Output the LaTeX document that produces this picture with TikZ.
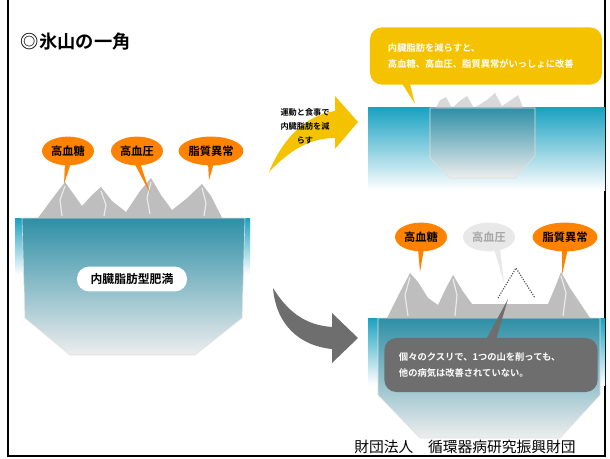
\documentclass[tikz,border=0pt]{standalone}
\usepackage{fontspec}
\setmainfont{Noto Sans CJK JP}[BoldFont={Noto Sans CJK JP Bold}]
\usetikzlibrary{positioning,shapes.geometric,calc}

\definecolor{sea}{HTML}{1AA2C2}
\definecolor{berg}{HTML}{2E8FA6}
\definecolor{rock}{HTML}{BEBEBE}
\definecolor{warn}{HTML}{FF8200}
\definecolor{gold}{HTML}{F5C200}
\definecolor{slate}{HTML}{6E6E6E}

\begin{document}
\begin{tikzpicture}[x=0.025cm, y=-0.025cm,
  bubble/.style={ellipse, fill=warn, inner sep=0pt, minimum width=1.3cm, minimum height=0.72cm,
    font=\fontsize{8}{9}\selectfont\bfseries},
  ghost/.style={bubble, fill=black!9, text=black!35},
  note/.style={rectangle, rounded corners=0.3cm, text=white, align=left,
    font=\fontsize{6.6}{11}\selectfont\bfseries},
  body/.style={top color=berg, bottom color=white!93!black, draw=black!12},
  crack/.style={white, line width=0.8pt, opacity=.7}]
  \useasboundingbox (0,0) rectangle (610,459);

  % frame
  \draw[line width=1.2pt] (8,-5) -- (8,456) -- (605,456) -- (605,-5);

  \node[anchor=west, font=\fontsize{13}{15}\selectfont\bfseries] (title) at (16,42) {◎氷山の一角};

  % --- left: before ---
  \shade[top color=sea, bottom color=white] (15,218) rectangle (250,275);
  \shade[body] (22,218) -- (245,218) -- (242,318) -- (195,355) -- (70,355) -- (25,318) -- cycle;
  \fill[rock] (38,218) -- (55,195) -- (65,182) -- (72,192) -- (82,206) -- (92,195) -- (101,187)
    -- (112,201) -- (126,212) -- (140,191) -- (151,178) -- (161,195) -- (172,210) -- (186,199)
    -- (202,184) -- (211,196) -- (222,218) -- cycle;
  \draw[crack] (65,186) -- (60,200) -- (62,216) (101,191) -- (106,205) -- (104,216)
    (151,182) -- (147,198) -- (150,214) (202,188) -- (206,203) -- (204,216);
  \node[fill=white, rounded corners=0.3cm, minimum width=2.75cm, minimum height=0.62cm,
    font=\fontsize{8.4}{10}\selectfont\bfseries] (fat) at (132,279) {内臓脂肪型肥満};

  \node[bubble] (l1) at (68,151) {高血糖};
  \node[bubble] (l2) at (137,151) {高血圧};
  \node[bubble, minimum width=1.62cm] (l3) at (211,151) {脂質異常};
  \coordinate (pk1) at (64,184);
  \coordinate (pk2) at (150,193);
  \coordinate (pk3) at (209,180);
  \foreach \b/\p in {l1/pk1, l2/pk2, l3/pk3}
    \fill[warn] ($(\b.south)+(-3,-3)$) -- (\p) -- ($(\b.south)+(3,-3)$) -- cycle;

  % --- arrows ---
  \fill[gold] (269,172) .. controls (282,140) and (305,115) .. (335,111) -- (335,96) -- (358,122)
    -- (335,149) -- (335,138) .. controls (310,138) and (290,150) .. (269,172) -- cycle;
  \node[align=center, font=\fontsize{5.8}{10}\selectfont\bfseries] (how) at (305,126)
    {運動と食事で\\内臓脂肪を減\\らす};
  \fill[slate] (273,288) .. controls (276,325) and (300,346) .. (332,349) -- (332,363) -- (358,338)
    -- (332,313) -- (332,327) .. controls (305,325) and (288,312) .. (273,288) -- cycle;

  % --- right top: after ---
  \shade[top color=sea, bottom color=white] (368,108) rectangle (605,190);
  \fill[rock, opacity=.6] (435,110) -- (440,100) -- (446,97) -- (452,108) -- (461,100) -- (467,96)
    -- (474,108) -- (487,100) -- (495,93) -- (502,106) -- (511,100) -- (518,95) -- (524,110) -- cycle;
  \shade[body] (430,108) -- (535,108) -- (535,156) -- (515,178) -- (450,178) -- (430,158) -- cycle;
  \node[note, fill=gold, minimum width=5.8cm, minimum height=1.43cm, text width=4.9cm] (good)
    at (486,56) {内臓脂肪を減らすと、\\高血糖、高血圧、脂質異常がいっしょに改善};
  \coordinate (tipA) at (415,104);
  \fill[gold] ($(good.south west)+(32,-2)$) -- (tipA) -- ($(good.south west)+(40,-2)$) -- cycle;

  % --- right bottom: one drug only ---
  \shade[top color=sea, bottom color=white] (368,318) rectangle (605,385);
  \shade[body] (378,318) -- (600,318) -- (600,395) -- (560,438) -- (420,438) -- (378,395) -- cycle;
  \fill[rock] (387,318) -- (398,296) -- (410,273) -- (418,282) -- (428,298) -- (438,305) -- (446,288)
    -- (453,275) -- (462,290) -- (472,304) -- (548,304) -- (556,285) -- (561,272) -- (570,288)
    -- (590,318) -- cycle;
  \draw[crack] (410,277) -- (405,295) -- (408,316) (453,279) -- (457,295) -- (455,316)
    (561,276) -- (566,293) -- (563,316);
  \draw[densely dotted, black!70, thick] (498,298) -- (516,268) -- (535,298);

  \node[bubble] (r1) at (421,237) {高血糖};
  \node[ghost] (r2) at (489,237) {高血圧};
  \node[bubble, minimum width=1.62cm] (r3) at (565,237) {脂質異常};
  \coordinate (pk4) at (420,272);
  \coordinate (pk5) at (504,283);
  \coordinate (pk6) at (562,275);
  \fill[warn] ($(r1.south)+(-3,-3)$) -- (pk4) -- ($(r1.south)+(3,-3)$) -- cycle;
  \fill[black!9] ($(r2.south)+(5,-3)$) -- (pk5) -- ($(r2.south)+(11,-3)$) -- cycle;
  \fill[warn] ($(r3.south)+(-3,-3)$) -- (pk6) -- ($(r3.south)+(3,-3)$) -- cycle;

  \node[note, fill=slate, minimum width=5.33cm, minimum height=1.35cm, text width=4.6cm] (bad)
    at (491,365) {個々のクスリで、1つの山を削っても、\\他の病気は改善されていない。};
  \coordinate (cut) at (508,299);
  \fill[slate] ($(bad.north)+(-5,2)$) -- (cut) -- ($(bad.north)+(5,2)$) -- cycle;

  \node[font=\fontsize{10.5}{12}\selectfont] (org) at (465,447) {財団法人　循環器病研究振興財団};
\end{tikzpicture}
\end{document}
